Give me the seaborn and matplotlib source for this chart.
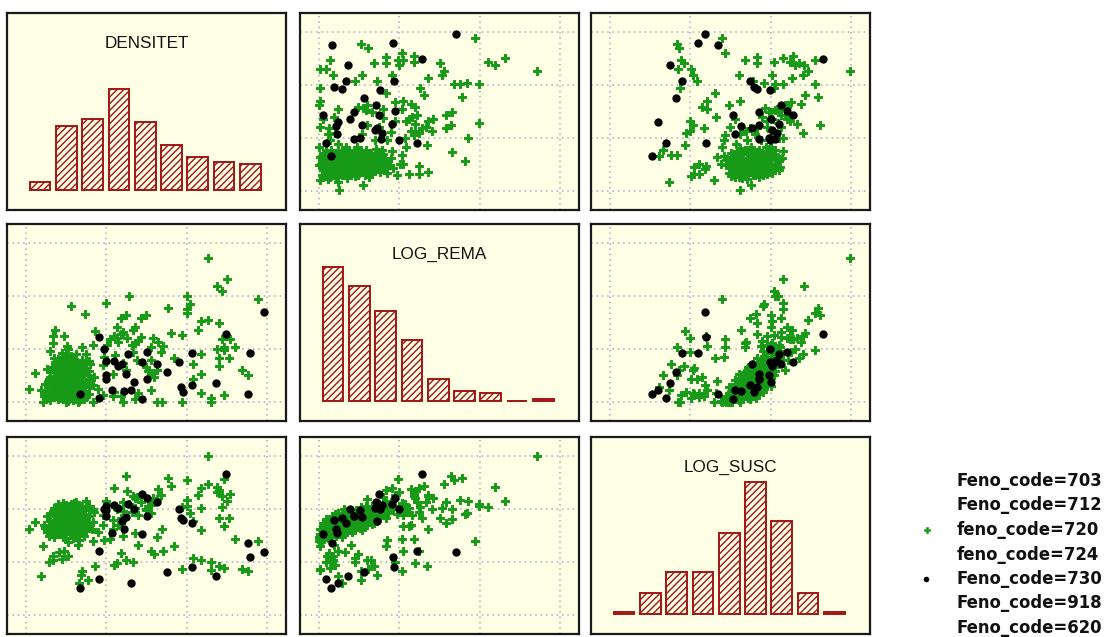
import matplotlib
matplotlib.use("Agg")
import matplotlib.pyplot as plt
import pandas as pd
import seaborn as sns

# ---------------- data (scaled units: gridlines at 0, 1, 2, 3) ----------------
variables = ["DENSITET", "LOG_REMA", "LOG_SUSC"]

hist_densitet = [8, 64, 71, 101, 68, 45, 33, 28, 26]
hist_log_rema = [134, 115, 90, 61, 22, 10, 8, 0, 2]
hist_log_susc = [2, 21, 42, 42, 81, 132, 93, 21, 2]

legend_labels = ["Feno_code=703", "Feno_code=712", "feno_code=720", "feno_code=724",
                 "Feno_code=730", "Feno_code=918", "Feno_code=620"]

# feno_code=720 (green)
green_rema = [
    1.94, 0.52, 0.61, 1.03, 1.18, 1.18, 0.83, 0.83, 0.98, 1.04,
    2.10, 2.19, 2.32, 2.72, 0.68, 1.00, 1.50, 0.13, 0.01, 0.08,
    1.55, 1.53, 0.17, 0.53, 0.72, 0.91, 1.36, 1.68, 1.76, 1.84,
    1.99, 0.01, 0.44, 1.26, 1.31, 1.78, 0.83, 0.01, 0.00, 0.94,
    0.23, 0.60, 0.55, 0.48, 1.14, 1.20, 1.03, 0.66, 0.80, 0.80,
    1.65, 1.58, 1.42, 1.36, 1.99, 1.12, 1.16, 1.22, 1.08, 1.20,
    1.28, 1.33, 1.41, 1.25, 1.64, 1.58, 1.86, 1.14, 1.18, 1.07,
    1.34, 1.66, 1.82, 0.12, 0.01, 0.11, 0.14, 0.24, 0.33, 0.18,
    0.05, 0.00, 0.01, 0.00, 0.58, 0.74, 0.95, 0.89, 0.70, 0.53,
    0.01, 0.25, 0.55, 0.23, 1.12, 1.25, 1.25, 1.36, 1.01, 1.05,
    0.97, 0.83, 0.72, 0.78, 0.91, 1.03, 1.08, 0.64, 0.39, 0.44, 0.17, 0.32,
    0.20, 1.20, 0.60, 1.05, 0.10, 0.52, 0.28, 0.85, 0.40, 0.15,
    0.05, 0.08, 0.10, 0.12, 0.15, 0.18, 0.20, 0.22, 0.25, 0.27,
    0.30, 0.32, 0.35, 0.37, 0.40, 0.42, 0.45, 0.48, 0.50, 0.52,
    0.55, 0.58, 0.60, 0.63, 0.66, 0.70, 0.74, 0.78, 0.82, 0.88,
    0.03, 0.07, 0.09, 0.13, 0.16, 0.19, 0.21, 0.24, 0.26, 0.29,
    0.31, 0.34, 0.36, 0.38, 0.41, 0.43, 0.46, 0.49, 0.51, 0.54,
    0.57, 0.59, 0.62, 0.65, 0.68, 0.72, 0.76, 0.80, 0.85, 0.90,
    0.06, 0.11, 0.14, 0.17, 0.20, 0.23, 0.26, 0.28, 0.31, 0.33,
    0.36, 0.39, 0.42, 0.44, 0.47, 0.50, 0.53, 0.56, 0.61, 0.67,
    0.71, 0.75, 0.79, 0.84, 0.02, 0.04, 0.09, 0.12, 0.18, 0.22,
    0.27, 0.30, 0.34, 0.38, 0.44, 0.49, 0.55, 0.60, 0.64, 0.69,
    0.04, 0.07, 0.10, 0.13, 0.16, 0.19, 0.21, 0.24, 0.26, 0.29,
    0.32, 0.35, 0.37, 0.40, 0.43, 0.46, 0.48, 0.51, 0.54, 0.57,
    0.60, 0.63, 0.67, 0.71, 0.77, 0.81, 0.86, 0.92, 0.15, 0.33,
    0.47, 0.58, 0.11, 0.35, 0.62, 0.05, 0.28, 0.41, 0.52, 0.66,
    0.73, 0.20, 0.45, 0.08, 0.56, 0.39, 0.24, 0.14, 0.68, 0.31,
]
green_dens = [
    2.89, 2.77, 2.69, 2.60, 2.54, 2.44, 2.53, 2.41, 2.47, 2.47,
    2.44, 2.38, 2.50, 2.27, 2.41, 2.38, 2.41, 2.47, 2.30, 2.30,
    2.27, 2.18, 2.18, 2.18, 2.08, 2.18, 2.14, 2.01, 2.01, 2.04,
    2.01, 1.94, 2.08, 1.94, 1.81, 1.77, 1.84, 1.69, 1.63, 1.68,
    1.55, 1.63, 1.56, 1.59, 1.64, 1.58, 1.55, 1.49, 1.55, 1.38,
    1.49, 1.43, 1.36, 1.33, 1.28, 1.36, 1.39, 1.43, 1.32, 1.26,
    1.18, 1.21, 1.13, 1.09, 1.25, 1.18, 1.00, 1.14, 1.05, 1.01,
    0.86, 0.73, 0.56, 1.18, 1.21, 1.08, 0.96, 0.89, 0.83, 1.39,
    1.36, 0.83, 0.64, 0.49, 1.52, 1.21, 1.33, 1.11, 0.96, 1.08,
    0.21, 0.03, 0.11, 0.18, 0.33, 0.33, 0.47, 0.36, 0.52, 0.51,
    0.30, 0.46, 0.68, 0.78, 0.75, 0.69, 0.83, 0.33, 0.30, 0.28, 0.33, 0.41,
    1.10, 1.13, 1.25, 1.70, 0.52, 0.77, 0.66, 0.97, 0.65, 0.45,
    0.40, 0.55, 0.35, 0.62, 0.48, 0.30, 0.58, 0.42, 0.70, 0.50,
    0.36, 0.60, 0.46, 0.74, 0.55, 0.40, 0.64, 0.50, 0.34, 0.58,
    0.44, 0.68, 0.52, 0.38, 0.62, 0.48, 0.56, 0.42, 0.60, 0.50,
    0.66, 0.28, 0.75, 0.44, 0.68, 0.52, 0.26, 0.62, 0.40, 0.78,
    0.48, 0.66, 0.32, 0.56, 0.70, 0.46, 0.36, 0.62, 0.72, 0.52,
    0.30, 0.58, 0.46, 0.72, 0.40, 0.64, 0.36, 0.70, 0.44, 0.62,
    0.46, 0.58, 0.36, 0.54, 0.44, 0.64, 0.55, 0.30, 0.70, 0.52,
    0.42, 0.62, 0.50, 0.78, 0.44, 0.56, 0.64, 0.38, 0.60, 0.54,
    0.80, 0.46, 0.52, 0.34, 0.52, 0.30, 0.64, 0.50, 0.40, 0.48,
    0.64, 0.44, 0.58, 0.48, 0.58, 0.40, 0.62, 0.42, 0.56, 0.66,
    0.58, 0.42, 0.70, 0.26, 0.60, 0.34, 0.72, 0.50, 0.34, 0.58,
    0.40, 0.54, 0.66, 0.44, 0.60, 0.52, 0.30, 0.48, 0.70, 0.54,
    0.36, 0.66, 0.44, 0.58, 0.62, 0.40, 0.56, 0.44, 0.78, 0.82,
    0.84, 0.78, 0.22, 0.24, 0.26, 0.72, 0.46, 0.34, 0.42, 0.32,
    0.74, 0.66, 0.68, 0.48, 0.48, 0.38, 0.36, 0.56, 0.50, 0.62,
]
green_susc = [
    1.39, 0.83, 0.86, 1.43, 2.28, 2.24, 1.83, 2.35, 2.56, 1.68,
    2.04, 2.42, 2.15, 2.99, 0.92, 2.31, 1.83, 0.88, 0.85, 1.01,
    2.47, 2.02, 1.03, 1.60, 1.78, 2.40, 2.27, 2.55, 2.16, 1.92,
    2.05, 0.87, 1.08, 2.04, 2.43, 2.59, 1.31, 1.62, 1.48, 2.26,
    1.21, 2.18, 1.93, 1.15, 2.38, 2.20, 2.12, 1.98, 2.08, 2.22,
    2.00, 2.13, 2.20, 2.24, 2.09, 2.02, 1.89, 2.13, 1.95, 2.33,
    1.83, 2.13, 2.00, 2.40, 2.62, 1.74, 2.15, 1.69, 1.43, 2.10,
    0.93, 1.82, 1.90, 1.17, 1.49, 1.62, 1.70, 1.57, 1.75, 1.32,
    1.55, 1.40, 1.52, 1.45, 2.05, 1.96, 1.00, 2.04, 1.88, 1.80,
    1.30, 1.62, 1.75, 0.73, 1.68, 1.95, 1.20, 1.63, 2.05, 1.88,
    1.90, 2.12, 0.76, 2.05, 2.15, 0.83, 2.00, 1.04, 1.78, 1.01, 1.11, 1.18,
    0.95, 0.99, 1.03, 1.21, 1.11, 0.66, 0.61, 1.42, 1.33, 1.05,
    1.55, 1.62, 1.48, 1.70, 1.58, 1.66, 1.74, 1.52, 1.80, 1.68,
    1.73, 1.61, 1.85, 1.77, 1.70, 1.90, 1.82, 1.76, 1.93, 1.87,
    1.98, 1.84, 2.01, 1.92, 2.06, 1.95, 2.10, 2.03, 2.12, 2.08,
    1.42, 1.50, 1.58, 1.65, 1.55, 1.78, 1.60, 1.66, 1.82, 1.70,
    1.58, 1.88, 1.72, 1.64, 1.95, 1.80, 1.68, 1.92, 1.78, 1.86,
    1.80, 1.94, 1.88, 2.00, 2.06, 1.90, 1.98, 2.05, 1.96, 2.14,
    1.66, 1.45, 1.74, 1.52, 1.70, 1.62, 1.76, 1.54, 1.84, 1.66,
    1.78, 1.72, 1.62, 1.86, 1.74, 1.70, 1.96, 1.84, 1.78, 1.90,
    1.98, 1.86, 1.94, 2.02, 1.38, 1.60, 1.56, 1.76, 1.62, 1.84,
    1.58, 1.90, 1.74, 1.60, 1.88, 1.82, 1.72, 1.96, 1.82, 2.02,
    1.50, 1.72, 1.64, 1.56, 1.86, 1.68, 1.50, 1.92, 1.64, 1.80,
    1.96, 1.56, 1.80, 1.66, 1.74, 1.98, 1.86, 1.64, 1.90, 1.76,
    1.70, 1.92, 1.80, 2.08, 1.88, 2.10, 1.92, 2.00, 1.68, 1.62,
    1.94, 1.70, 1.70, 1.64, 1.86, 1.74, 1.48, 1.56, 2.04, 1.72,
    1.84, 1.90, 1.60, 1.82, 1.68, 1.98, 1.88, 1.60, 1.74, 2.00,
]

# Feno_code=730 (black)
black_rema = [1.70, 0.16, 0.92, 1.28, 0.36, 0.33, 0.19, 0.29, 0.76, 0.93, 0.56,
              0.71, 0.43, 0.05, 0.75, 0.94, 0.23, 0.38, 0.53, 0.91, 0.21, 0.72,
              0.69, 0.22, 0.43, 0.51, 0.77, 1.00, 1.22, 0.08, 0.15, 0.78]
black_dens = [2.96, 2.76, 2.79, 2.49, 2.37, 2.07, 1.96, 1.93, 1.90, 2.07, 1.76,
              1.63, 1.50, 1.44, 1.44, 1.51, 1.31, 1.35, 1.24, 1.27, 1.22, 1.19,
              1.15, 1.07, 0.99, 1.00, 0.99, 0.97, 0.91, 0.91, 0.67, 1.09]
black_susc = [1.18, 1.35, 1.09, 2.65, 0.74, 1.74, 1.79, 1.83, 1.99, 0.90, 0.82,
              2.13, 1.86, 1.53, 2.28, 2.21, 0.60, 2.00, 1.85, 2.10, 1.63, 1.77,
              2.02, 1.55, 1.86, 1.98, 2.06, 1.99, 1.20, 0.69, 0.52, 2.08]

# ---------------- styling ----------------
BG = "#FFFFE6"
RED = "#A31515"
GREEN = "#179A17"
GRIDC = "#A8A8C8"

sns.set_theme(style="white")
plt.rcParams["font.family"] = ["Liberation Sans", "DejaVu Sans"]
plt.rcParams["hatch.color"] = RED
plt.rcParams["hatch.linewidth"] = 1.0

df_green = pd.DataFrame({"DENSITET": green_dens, "LOG_REMA": green_rema, "LOG_SUSC": green_susc})
df_black = pd.DataFrame({"DENSITET": black_dens, "LOG_REMA": black_rema, "LOG_SUSC": black_susc})
hists = {"DENSITET": hist_densitet, "LOG_REMA": hist_log_rema, "LOG_SUSC": hist_log_susc}

W, H = 1112, 637
fig = plt.figure(figsize=(W / 100, H / 100), dpi=100)
fig.patch.set_facecolor("white")

col_x = [7, 300, 591]
row_y = [13, 224, 437]
pw, ph = 279, 197

for i, vy in enumerate(variables):
    for j, vx in enumerate(variables):
        ax = fig.add_axes([col_x[j] / W, 1 - (row_y[i] + ph) / H, pw / W, ph / H])
        ax.set_facecolor(BG)
        if i == j:
            counts = hists[vx]
            sns.barplot(x=list(range(len(counts))), y=counts, ax=ax, width=0.79,
                        color=BG, saturation=1, edgecolor=RED, linewidth=1.4)
            for p in ax.patches:
                p.set_hatch("/////")
            ax.set_xlim(-1.255, 9.354)
            ax.set_ylim(-20, 177)
            ax.set_xticks([])
            ax.set_yticks([])
            ax.text(0.5, 0.843, vx, transform=ax.transAxes, ha="center", va="center",
                    fontsize=12.3, color="#111111")
        else:
            sns.scatterplot(data=df_green, x=vx, y=vy, ax=ax, marker="P", s=30,
                            color=GREEN, edgecolor=GREEN, linewidth=0.7, zorder=3)
            sns.scatterplot(data=df_black, x=vx, y=vy, ax=ax, marker="o", s=36,
                            color="black", linewidth=0, zorder=4)
            ax.set_xlim(-0.24, 3.24)
            ax.set_ylim(-0.355, 3.355)
            ax.set_xticks([0, 1, 2, 3])
            ax.set_yticks([0, 1, 2, 3])
            ax.grid(True, color=GRIDC, linestyle=(0, (1, 2.5)), linewidth=1.1, zorder=0)
            ax.set_axisbelow(True)
        ax.set_xlabel("")
        ax.set_ylabel("")
        ax.tick_params(length=0, labelbottom=False, labelleft=False)
        for sp in ax.spines.values():
            sp.set_visible(True)
            sp.set_color("#1a1a1a")
            sp.set_linewidth(1.6)

# ---------------- legend ----------------
lx0, lx1, ly0, ly1 = 880, 1112, 460, 637
lax = fig.add_axes([lx0 / W, 1 - ly1 / H, (lx1 - lx0) / W, (ly1 - ly0) / H])
ys = [481 + 24.5 * k for k in range(len(legend_labels))]
for k, lab in enumerate(legend_labels):
    lax.text(957, ys[k], lab, ha="left", va="center", fontsize=11.9,
             fontweight="bold", family="DejaVu Sans", color="#111111")
sns.scatterplot(x=[927], y=[ys[2]], ax=lax, marker="P", s=14, color=GREEN,
                edgecolor=GREEN, linewidth=0.4)
sns.scatterplot(x=[926], y=[ys[4]], ax=lax, marker="o", s=16, color="black", linewidth=0)
lax.set_xlim(lx0, lx1)
lax.set_ylim(ly1, ly0)
lax.axis("off")

fig.savefig("out.png", dpi=100, facecolor="white")
